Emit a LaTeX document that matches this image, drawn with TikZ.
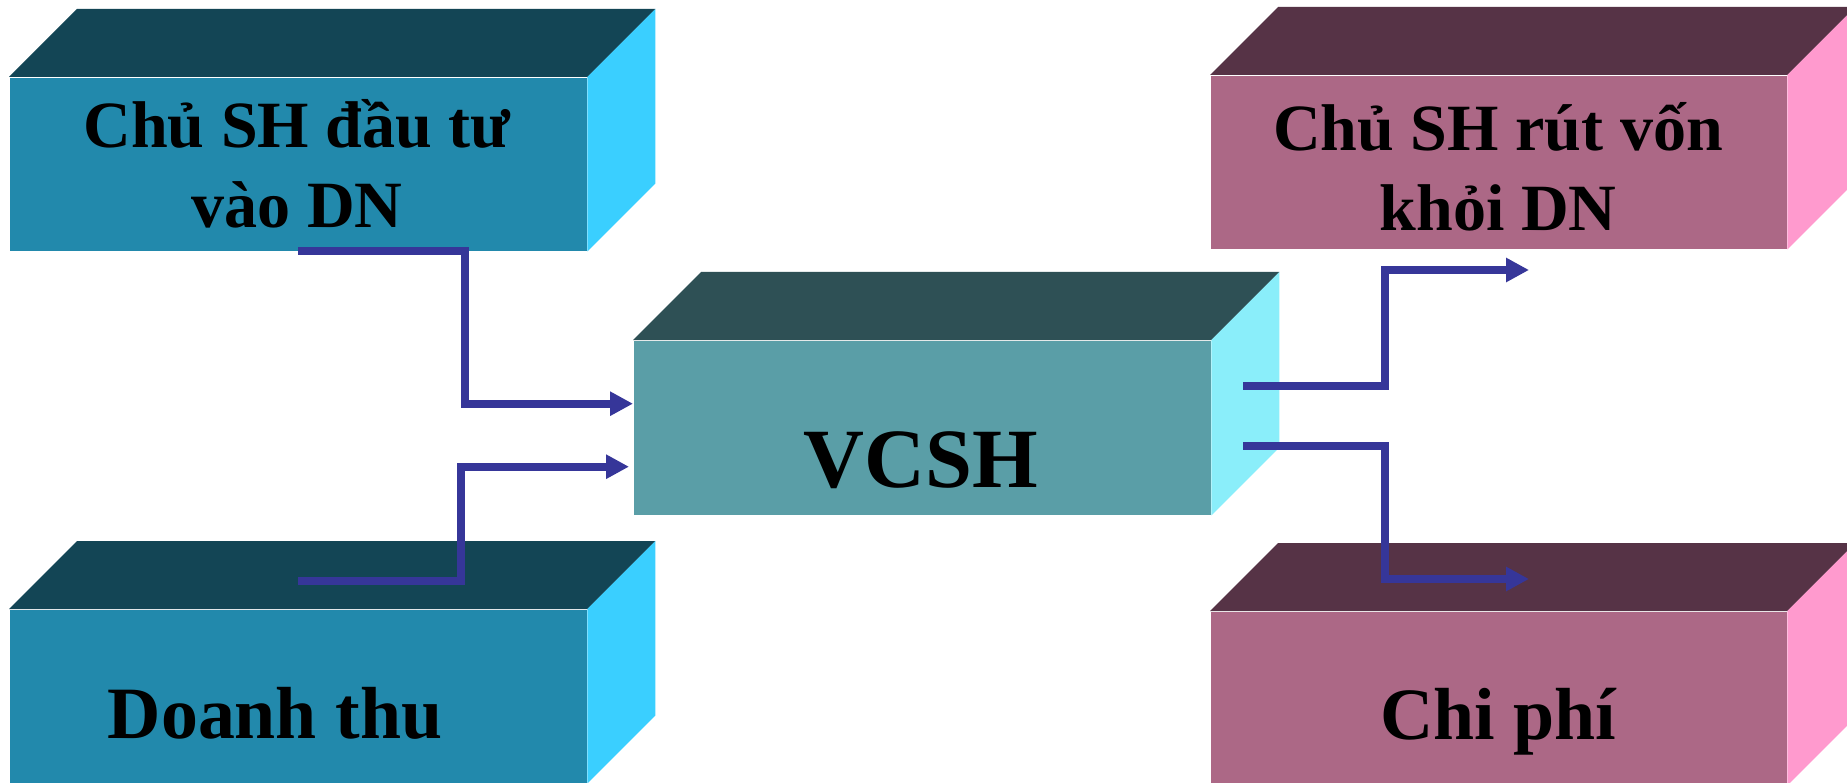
\documentclass[tikz,border=0pt]{standalone}
\usepackage{fontspec}
\setmainfont{Liberation Serif}
\usepackage{tikz}
\usetikzlibrary{positioning,arrows.meta}
\definecolor{tealfront}{HTML}{2289AC}
\definecolor{tealtop}{HTML}{134555}
\definecolor{tealside}{HTML}{3ACFFF}
\definecolor{midfront}{HTML}{5A9EA7}
\definecolor{midtop}{HTML}{2E5055}
\definecolor{midside}{HTML}{8AEEFA}
\definecolor{pinkfront}{HTML}{AC6886}
\definecolor{pinktop}{HTML}{563346}
\definecolor{pinkside}{HTML}{FF9ACE}
\definecolor{flowblue}{HTML}{363699}

% top and right faces of a block, drawn from its front node
\newcommand{\cubefaces}[3]{%
  \fill[#2] (#1.north west) -- ++(6.8mm,6.8mm) -- ([shift={(6.8mm,6.8mm)}]#1.north east) -- (#1.north east) -- cycle;
  \fill[#3] (#1.north east) -- ++(6.8mm,6.8mm) -- ([shift={(6.8mm,6.8mm)}]#1.south east) -- (#1.south east) -- cycle;
}

\begin{document}
\begin{tikzpicture}[
    x=0.1mm, y=-0.1mm,
    front/.style={minimum width=57.7mm, minimum height=17.3mm, inner sep=0pt, anchor=north west},
    txt/.style={font=\bfseries\fontsize{18.8}{22.8}\selectfont, align=center, anchor=base, inner sep=0pt},
    bigtxt/.style={txt, font=\bfseries\fontsize{21}{25}\selectfont},
    flow/.style={draw=flowblue, line width=0.8mm, -{Triangle[length=2.3mm,width=2.3mm]}}
]
\useasboundingbox[fill=white] (0,0) rectangle (1847,782);

\node[front, fill=tealfront] (invest) at (9,77) {};
\node[front, fill=tealfront] (revenue) at (9,609) {};
\node[front, fill=midfront, minimum height=17.4mm] (equity) at (633,340) {};
\node[front, fill=pinkfront, minimum width=57.6mm] (withdraw) at (1210,75) {};
\node[front, fill=pinkfront, minimum width=57.6mm] (cost) at (1210,611) {};

\cubefaces{invest}{tealtop}{tealside}
\cubefaces{revenue}{tealtop}{tealside}
\cubefaces{equity}{midtop}{midside}
\cubefaces{withdraw}{pinktop}{pinkside}
\cubefaces{cost}{pinktop}{pinkside}

\node[txt] (investtxt) at (297,228) {Chủ SH đầu tư\\vào DN};
\node[bigtxt] (revenuetxt) at (275,738) {Doanh thu};
\node[txt, font=\bfseries\fontsize{24}{29}\selectfont] (equitytxt) at (921,487) {VCSH};
\node[txt] (withdrawtxt) at (1498,231) {Chủ SH rút vốn\\khỏi DN};
\node[bigtxt] (costtxt) at (1498,739) {Chi phí};

\coordinate (in1) at ([yshift=2.4mm]equity.west);
\coordinate (in2) at ([xshift=-0.4mm,yshift=-3.9mm]equity.west);
\coordinate (out1) at (1529,270);
\coordinate (out2) at (1529,579);

\draw[flow] (invest.south) -| ([xshift=-16.8mm]in1) -- (in1);
\draw[flow] ([yshift=2.8mm]revenue.north) -| ([xshift=-16.8mm]in2) -- (in2);
\draw[flow] ([xshift=3.2mm,yshift=4.2mm]equity.east) -| ([xshift=-14.4mm]out1) -- (out1);
\draw[flow] ([xshift=3.2mm,yshift=-1.8mm]equity.east) -| ([xshift=-14.4mm]out2) -- (out2);

\end{tikzpicture}
\end{document}
